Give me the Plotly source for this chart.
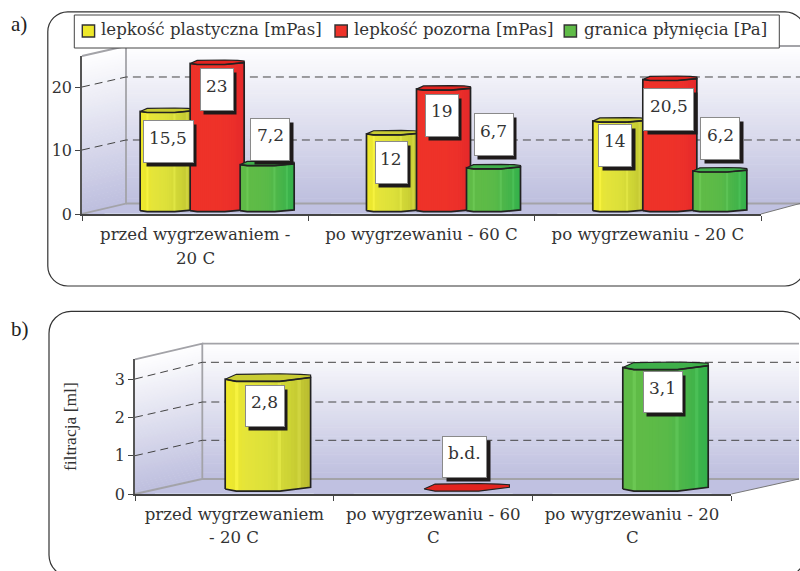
import numpy as np
import plotly.graph_objects as go

# ---------- data ----------
cats_a = ["przed wygrzewaniem -", "po wygrzewaniu - 60 C", "po wygrzewaniu - 20 C"]
cats_a_line2 = ["20 C", "", ""]
series_a = ["lepkość plastyczna [mPas]", "lepkość pozorna [mPas]", "granica płynięcia [Pa]"]
plastyczna = [15.5, 12, 14]
pozorna = [23, 19, 20.5]
granica = [7.2, 6.7, 6.2]
labels_plastyczna = ["15,5", "12", "14"]
labels_pozorna = ["23", "19", "20,5"]
labels_granica = ["7,2", "6,7", "6,2"]
cats_b = ["przed wygrzewaniem", "po wygrzewaniu - 60", "po wygrzewaniu - 20"]
cats_b_line2 = ["- 20 C", "C", "C"]
filtracja = [2.8, 0, 3.1]
labels_filtracja = ["2,8", "b.d.", "3,1"]
yticks_a = [0, 10, 20]
yticks_b = [0, 1, 2, 3]

# ---------- style ----------
W, H = 800, 571
PLOT_H = 561  # plotly keeps a 10 px strip at the bottom of this figure
FONT = "DejaVu Serif"
TXT = "#333333"
FS = 16.6
YEL = ["#F0E92A", "#E4E43A", "#DCE03A", "#CDD335", "#B9BC30"]
RED = ["#EE3229", "#EE3229", "#EE3229", "#EC302A", "#E4282A"]
GRN = ["#5FBB47", "#5FBB47", "#5ABA48", "#48B54A", "#33B14B"]
TOPS = {"y": "#C9CC33", "r": "#E2231F", "g": "#3FAF4A"}
EDGE = "#222222"


def hex2rgb(c):
    return np.array([int(c[i:i + 2], 16) for i in (1, 3, 5)], float)


def rgb2hex(v):
    return "#%02X%02X%02X" % tuple(int(round(x)) for x in np.clip(v, 0, 255))


def ramp(stops, f):
    arr = np.array([hex2rgb(s) for s in stops])
    t = np.linspace(0, 1, len(stops))
    return np.array([np.interp(f, t, arr[:, k]) for k in range(3)])


def px(x):
    return x / W


def py(y):
    return 1 - y / PLOT_H


def path(points, close=True):
    s = "M" + " L".join(f"{px(x):.5f},{py(y):.5f}" for x, y in points)
    return s + (" Z" if close else "")


shapes = []
annos = []


def add_shape(**kw):
    shapes.append(dict(xref="paper", yref="paper", **kw))


def wall(x_front, x_back, x_end, x_right_front, y_floor_front, y_floor_back, y_top_back, y_top_front, grid):
    n = 60
    ys = np.linspace(y_top_back, y_floor_back, n + 1)
    top, bot = np.array([255, 255, 255.]), hex2rgb("#BDBEDE")
    for i in range(n):
        col = rgb2hex(top + (bot - top) * (i + .5) / n)
        y0, y1 = ys[i], ys[i + 1] + .6
        add_shape(type="path", path=path([(x_back, y0), (x_end, y0), (x_end, y1), (x_back, y1)]),
                  fillcolor=col, line_width=0, layer="below")
        t0, t1 = i / n, (i + 1) / n
        fy0 = y_top_front + (y_floor_front - y_top_front) * t0
        fy1 = y_top_front + (y_floor_front - y_top_front) * t1 + .6
        add_shape(type="path", path=path([(x_front, fy0), (x_back + .5, y0), (x_back + .5, y1), (x_front, fy1)]),
                  fillcolor=col, line_width=0, layer="below")
    add_shape(type="path",
              path=path([(x_front, y_floor_front), (x_back, y_floor_back), (x_end, y_floor_back),
                         (x_right_front, y_floor_front)]),
              fillcolor="#C0C1E1", line_width=0, layer="below")
    grey = dict(color="#A3A3A8", width=1.8)
    add_shape(type="path", path=path([(x_front, y_floor_front), (x_back, y_floor_back), (x_back, y_top_back),
                                      (x_front, y_top_front)], close=False),
              line=grey, layer="below")
    add_shape(type="path", path=path([(x_back, y_floor_back), (x_end, y_floor_back)], close=False),
              line=grey, layer="below")
    add_shape(type="path", path=path([(x_back, y_top_back), (x_end, y_top_back)], close=False),
              line=grey, layer="below")
    add_shape(type="path", path=path([(x_right_front, y_floor_front), (x_end, y_floor_back)], close=False),
              line=dict(color="#777777", width=1), layer="below")
    for yf, yb in grid:
        add_shape(type="path", path=path([(x_front, yf), (x_back, yb), (x_end, yb)], close=False),
                  line=dict(color="#444444", width=1, dash="8px,5px"), layer="below")


wall(82, 126, 800, 761, 214, 203.5, 46, 56, [(150, 140), (87, 77)])
wall(135, 202.3, 799, 731.5, 494, 479, 343.7, 359.3, [(455.7, 440.3), (417.3, 402), (379, 362.3)])


def frame(x0, y0, x1, y1, r):
    k = 0.45 * r
    pts = [f"M{px(x0 + r):.5f},{py(y0):.5f}", f"L{px(x1 - r):.5f},{py(y0):.5f}",
           f"C{px(x1 - k):.5f},{py(y0):.5f} {px(x1):.5f},{py(y0 + k):.5f} {px(x1):.5f},{py(y0 + r):.5f}",
           f"L{px(x1):.5f},{py(y1 - r):.5f}",
           f"C{px(x1):.5f},{py(y1 - k):.5f} {px(x1 - k):.5f},{py(y1):.5f} {px(x1 - r):.5f},{py(y1):.5f}",
           f"L{px(x0 + r):.5f},{py(y1):.5f}",
           f"C{px(x0 + k):.5f},{py(y1):.5f} {px(x0):.5f},{py(y1 - k):.5f} {px(x0):.5f},{py(y1 - r):.5f}",
           f"L{px(x0):.5f},{py(y0 + r):.5f}",
           f"C{px(x0):.5f},{py(y0 + k):.5f} {px(x0 + k):.5f},{py(y0):.5f} {px(x0 + r):.5f},{py(y0):.5f} Z"]
    add_shape(type="path", path=" ".join(pts), line=dict(color="#333333", width=1.2), layer="below")


frame(47.8, 11.8, 805, 286, 20)
frame(49, 311.3, 805, 577, 22)

fig = go.Figure()


def dom_x(a, b):
    return [px(a), px(b)]


def dom_y(top, bot):
    return [py(bot), py(top)]


layout = dict(
    width=W, height=H, margin=dict(l=0, r=0, t=0, b=0, pad=0), paper_bgcolor="white", plot_bgcolor="rgba(0,0,0,0)",
    barmode="overlay", showlegend=False, font=dict(family=FONT, color=TXT, size=FS), autosize=False,
)


def base_axes(idx, cats, x0, x1, y0px, ytop, slope, ticks, title=None):
    sx = "" if idx == 1 else str(idx)
    layout["xaxis" + sx] = dict(
        domain=dom_x(x0, x1), type="category", categoryorder="array", categoryarray=cats, range=[-.5, 2.5],
        tickson="boundaries", ticks="outside", ticklen=5, tickcolor="#444444", tickwidth=1.2, showgrid=False,
        showline=True, linecolor="#444444", linewidth=1.5, zeroline=False, anchor="y" + sx,
        tickfont=dict(family=FONT, size=FS, color=TXT), ticklabelstandoff=4, fixedrange=True)
    ya = dict(
        domain=dom_y(ytop, y0px), range=[0, (y0px - ytop) / slope], tickvals=ticks, ticks="outside", ticklen=5,
        tickcolor="#444444", tickwidth=1.2, showgrid=False, showline=True, linecolor="#555555", linewidth=1.5,
        zeroline=False, anchor="x" + sx, tickfont=dict(family=FONT, size=16, color=TXT), fixedrange=True)
    if title:
        ya["title"] = dict(text=title, font=dict(family="Liberation Serif", size=17.5, color=TXT), standoff=34)
    layout["yaxis" + sx] = ya
    fig.add_trace(go.Bar(x=cats, y=[0, 0, 0], xaxis="x" + sx, yaxis="y" + sx, marker_color="rgba(0,0,0,0)",
                         hoverinfo="skip"))


def series_axes(idx, x0, x1, base_px, bot_px, top_px, slope):
    sx = str(idx)
    layout["xaxis" + sx] = dict(domain=dom_x(x0, x1), range=[-.5, 2.5], visible=False, anchor="y" + sx,
                                fixedrange=True)
    layout["yaxis" + sx] = dict(domain=dom_y(top_px, bot_px),
                                range=[-(bot_px - base_px) / slope, (base_px - top_px) / slope], visible=False,
                                anchor="x" + sx, fixedrange=True)


def prism(idx, xs, vals, width, stops_list, tops, slope, back_px, dip_px, nstrip=26, facets=(.13, .64, .88)):
    """Draw shaded prism bars from data values."""
    sx = str(idx)
    fprof = np.array([0, .13, .64, .88, 1])
    prof = np.array([0, -dip_px, -dip_px, dip_px * .25, dip_px * .8]) / slope
    sw = width / nstrip
    for s in range(nstrip):
        f = (s + .5) / nstrip
        dy = np.interp(f, fprof, prof)
        cols = []
        for st in stops_list:
            c = ramp(st, f)
            if st is not RED and any(abs(f - q) < .5 / nstrip for q in facets):
                c = c + 12
            cols.append(rgb2hex(c))
        w_s = sw * 1.6 if s < nstrip - 1 else sw
        fig.add_trace(go.Bar(
            x=xs, y=[v for v in vals], base=[dy] * len(vals), width=w_s,
            offset=s * sw - .5 * width, marker=dict(color=cols, line_width=0, opacity=1),
            xaxis="x" + sx, yaxis="y" + sx, hoverinfo="skip"))
    for x, v, topc in zip(xs, vals, tops):
        X = x + (fprof - .5) * width
        back = np.array([0, back_px * .9, back_px, back_px * .9, back_px * .45 + prof[-1] * slope]) / slope
        fig.add_trace(go.Scatter(
            x=list(X) + list(X[::-1]), y=list(v + prof) + list((v + back)[::-1]), mode="lines", fill="toself",
            fillcolor=topc, line=dict(color=EDGE, width=1.2), xaxis="x" + sx, yaxis="y" + sx, hoverinfo="skip"))
        if v > 0:
            ox = list(X) + [X[-1]] + list(X[::-1]) + [X[0]]
            oy = list(prof) + [v + prof[-1]] + list((v + prof)[::-1]) + [0]
            fig.add_trace(go.Scatter(x=ox, y=oy, mode="lines", line=dict(color=EDGE, width=1.7),
                                     xaxis="x" + sx, yaxis="y" + sx, hoverinfo="skip"))


def label(idx, x, v, text, dx, dy, w, h=41):
    xr, yr = "x" + str(idx), "y" + str(idx)
    common = dict(xref=xr, yref=yr, x=x, y=v, showarrow=False, xanchor="center", yanchor="middle",
                  width=w, height=h, borderpad=0)
    annos.append(dict(common, text=" ", bgcolor="#1E1A1A", xshift=dx + 3.5, yshift=dy - 4))
    annos.append(dict(common, text=" ", bgcolor="white", bordercolor="#8A8A8A", borderwidth=1, xshift=dx, yshift=dy))
    annos.append(dict(xref=xr, yref=yr, x=x, y=v, showarrow=False, xanchor="center", yanchor="middle",
                      text=text, font=dict(family=FONT, size=17, color=TXT), xshift=dx, yshift=dy + 4))


# ---------- panel a ----------
base_axes(1, cats_a, 82, 761, 214, 56, 6.35, yticks_a)
xgrp = [0, 1, 2]
step = 50 / 226.3
wid = 54 / 226.3
for idx in (2, 3, 4):
    series_axes(idx, 104, 783, 210.7, 216, 40, 6.4)
prism(2, [x - step for x in xgrp], plastyczna, wid, [YEL] * 3, [TOPS["y"]] * 3, 6.4, 3.5, 1)
prism(3, xgrp, pozorna, wid, [RED] * 3, [TOPS["r"]] * 3, 6.4, 3.5, 1)
prism(4, [x + step for x in xgrp], granica, wid, [GRN] * 3, [TOPS["g"]] * 3, 6.4, 3.5, 1)

off_a = {
    2: [(1, -30, 49), (-2.2, -28.6, 31), (-4.7, -23.9, 32)],
    3: [(-.5, -26, 32), (-1.7, -25.9, 32), (-1.2, -30, 49)],
    4: [(3, 25.6, 38), (0, 33.3, 38), (.3, 32.5, 38)],
}
for idx, vals, txts, d in ((2, plastyczna, labels_plastyczna, -step), (3, pozorna, labels_pozorna, 0),
                           (4, granica, labels_granica, step)):
    for i, (v, t) in enumerate(zip(vals, txts)):
        ox, oy, w = off_a[idx][i]
        label(idx, i + d, v, t, ox, oy, w)

for c, t in zip(cats_a, cats_a_line2):
    if t:
        annos.append(dict(xref="x", yref="paper", x=c, y=py(258), text=t, showarrow=False, yanchor="middle",
                          font=dict(family=FONT, size=FS, color=TXT)))

# ---------- panel b ----------
base_axes(5, cats_b, 135, 731.4, 494, 359.3, 38.33, yticks_b, title="filtracja [ml]")
series_axes(6, 168.5, 764.9, 489, 496, 350, 39.2)
wb = 85.4 / 198.8
prism(6, xgrp, filtracja, wb, [YEL, RED, GRN], [TOPS["y"], TOPS["r"], TOPS["g"]], 39.2, 5.5, 2.2)
off_b = [(-3, -26.8, 38), (-2.2, 32, 43), (-2.8, -24.5, 38)]
for i, (v, t) in enumerate(zip(filtracja, labels_filtracja)):
    ox, oy, w = off_b[i]
    label(6, i, v, t, ox, oy, w, 40)
for c, t in zip(cats_b, cats_b_line2):
    annos.append(dict(xref="x5", yref="paper", x=c, y=py(537), text=t, showarrow=False, yanchor="middle",
                      font=dict(family=FONT, size=FS, color=TXT)))

# ---------- legend box ----------
add_shape(type="rect", x0=px(74.3), x1=px(779.3), y0=py(48), y1=py(15),
          fillcolor="white", line=dict(color="#444444", width=1), layer="above")
leg_swatch_x = [82.3, 335, 564.2]
leg_text_x = [99, 352, 581.5]
leg_cols = ["#EEE82A", "#EE3229", "#5FBB47"]
for name, sx, tx, col in zip(series_a, leg_swatch_x, leg_text_x, leg_cols):
    add_shape(type="rect", x0=px(sx), x1=px(sx + 12.3), y0=py(37), y1=py(25),
              fillcolor=col, line=dict(color="#333333", width=1.4), layer="above")
    annos.append(dict(xref="paper", yref="paper", x=px(tx), y=py(29), text=name, showarrow=False, xanchor="left",
                      yanchor="middle", font=dict(family=FONT, size=FS, color=TXT)))

for t, y in (("a)", 24), ("b)", 329)):
    annos.append(dict(xref="paper", yref="paper", x=px(9), y=py(y), text=t, showarrow=False, xanchor="left",
                      yanchor="middle", font=dict(family="Liberation Serif", size=21, color="#222222")))

layout["shapes"] = shapes
layout["annotations"] = annos
fig.update_layout(**layout)
fig.write_html("out.html", config={"displayModeBar": False},
               post_script="document.body.style.margin='0';document.body.style.overflow='hidden';")
